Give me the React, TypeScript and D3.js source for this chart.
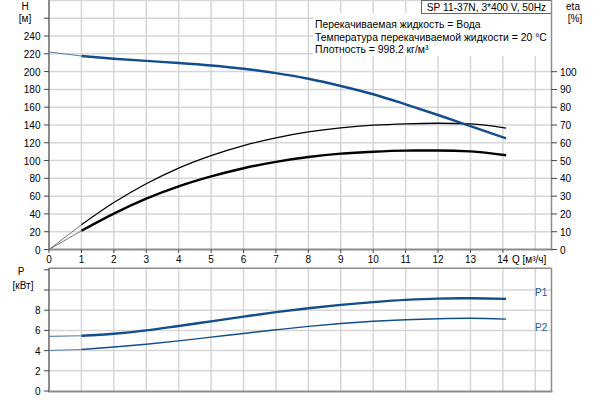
import React from "react";
import * as d3 from "d3";

const Q = [0, 1, 2, 3, 4, 5, 6, 7, 8, 9, 10, 11, 12, 13, 14.1];
const H = [222, 217.5, 214.5, 212, 209.7, 206.9, 203.2, 198.2, 191.9, 183.8, 174.5, 163.2, 151.2, 138.7, 125];
const ETA_P = [0, 13.9, 26.4, 37, 45.8, 52.8, 58.4, 62.8, 66.1, 68.4, 69.9, 70.7, 71, 70.6, 68.3];
const ETA_T = [0, 10.5, 20.2, 28.6, 35.5, 41.1, 45.7, 49.3, 52.0, 53.9, 55.0, 55.6, 55.7, 55.2, 53.0];
const P1 = [5.4, 5.47, 5.67, 6.0, 6.44, 6.9, 7.36, 7.81, 8.2, 8.53, 8.8, 9.02, 9.15, 9.18, 9.12];
const P2 = [4.01, 4.11, 4.35, 4.63, 4.96, 5.33, 5.7, 6.06, 6.4, 6.68, 6.9, 7.06, 7.16, 7.2, 7.12];
const X_TICKS = [0, 1, 2, 3, 4, 5, 6, 7, 8, 9, 10, 11, 12, 13, 14];
const H_TICKS = [0, 20, 40, 60, 80, 100, 120, 140, 160, 180, 200, 220, 240];
const ETA_TICKS = [0, 10, 20, 30, 40, 50, 60, 70, 80, 90, 100];
const P_TICKS = [0, 2, 4, 6, 8];
const INFO = [
  "Перекачиваемая жидкость = Вода",
  "Температура перекачиваемой жидкости = 20 °C",
  "Плотность = 998.2 кг/м³",
];
const TITLE = "SP 11-37N, 3*400 V, 50Hz";

const FONT = "'Liberation Sans', Arial, sans-serif";
const BLUE = "#124d8c";
const GRID = "#d6d6d6";
const AXIS = "#8c8c8c";

export default function App() {
  const x = d3.scaleLinear().domain([0, 15.5]).range([49, 551.5]);
  const yH = d3.scaleLinear().domain([0, 240]).range([249.5, 36]);
  const yE = d3.scaleLinear().domain([0, 100]).range([249.5, 71.7]);
  const yP = d3.scaleLinear().domain([0, 12.15]).range([391, 268.3]);

  const mk = (ys: number[], sc: d3.ScaleLinear<number, number>) => {
    const pts = Q.map((q, i) => [q, ys[i]] as [number, number]);
    const line = d3
      .line<[number, number]>()
      .x((d) => x(d[0]))
      .y((d) => sc(d[1]))
      .curve(d3.curveMonotoneX);
    return { lo: line(pts.slice(0, 2)) || "", hi: line(pts.slice(1)) || "" };
  };
  const hP = mk(H, yH);
  const e1 = mk(ETA_P, yE);
  const e2 = mk(ETA_T, yE);
  const p1 = mk(P1, yP);
  const p2 = mk(P2, yP);

  const vgrid = d3.range(1, 16);
  const hgridTop = d3.range(20, 281, 20);
  const hgridBot = [2, 4, 6, 8, 10];

  return (
    <svg
      width={600}
      height={400}
      style={{ position: "fixed", left: 0, top: 0, background: "#fff" }}
      fontFamily={FONT}
      fontSize={10}
    >
      <rect width={600} height={400} fill="#fff" />
      {/* top grid */}
      {vgrid.map((v) => (
        <line key={"tv" + v} x1={x(v)} x2={x(v)} y1={0} y2={249.5} stroke={GRID} strokeWidth={1.5} />
      ))}
      {hgridTop.map((v) => (
        <line key={"th" + v} x1={49} x2={551.5} y1={yH(v)} y2={yH(v)} stroke={GRID} strokeWidth={1.5} />
      ))}
      {/* info box */}
      <rect x={313} y={13} width={238} height={43} fill="#fff" />
      {INFO.map((t, i) => (
        <text key={t} x={315} y={28 + i * 12.6} fill="#000" fontSize={10.4}>
          {t}
        </text>
      ))}
      <rect x={421.5} y={0.5} width={130} height={13} fill="#fff" stroke="#666" strokeWidth={1} />
      <text x={486.5} y={11} textAnchor="middle" fill="#000" fontSize={10.2}>
        {TITLE}
      </text>

      {/* top axes */}
      <line x1={49} x2={49} y1={0} y2={250} stroke={AXIS} strokeWidth={2} />
      <line x1={48} x2={552.5} y1={249.5} y2={249.5} stroke={AXIS} strokeWidth={2} />
      <line x1={551.5} x2={551.5} y1={0} y2={250} stroke={AXIS} strokeWidth={1.5} />
      {[...H_TICKS, 260].map((v) => (
        <line key={"ht" + v} x1={44} x2={49} y1={yH(v)} y2={yH(v)} stroke="#444" />
      ))}
      {H_TICKS.map((v) => (
        <text key={"hl" + v} x={40.5} y={yH(v) + 4} textAnchor="end" fill="#000">
          {v}
        </text>
      ))}
      {ETA_TICKS.map((v) => (
        <g key={"et" + v}>
          <line x1={551.5} x2={557} y1={yE(v)} y2={yE(v)} stroke="#444" />
          <text x={560} y={yE(v) + 4} fill="#000">
            {v}
          </text>
        </g>
      ))}
      <text x={25} y={10} textAnchor="middle" fill="#000">H</text>
      <text x={25} y={22} textAnchor="middle" fill="#000">[м]</text>
      <text x={573} y={10} textAnchor="middle" fill="#000">eta</text>
      <text x={575} y={22} textAnchor="middle" fill="#000">[%]</text>

      {/* x tick labels */}
      {X_TICKS.map((v) => (
        <g key={"xt" + v}>
          <line x1={x(v)} x2={x(v)} y1={249.5} y2={253} stroke="#444" />
          <text x={x(v)} y={263} textAnchor="middle" fill="#000">
            {v}
          </text>
        </g>
      ))}
      <text x={512} y={263} fill="#000">Q [м³/ч]</text>

      {/* top curves */}
      <path d={e1.lo} fill="none" stroke="#777" strokeWidth={1} />
      <path d={e2.lo} fill="none" stroke="#777" strokeWidth={1} />
      <path d={hP.lo} fill="none" stroke="#5b82b0" strokeWidth={1.2} />
      <path d={e1.hi} fill="none" stroke="#000" strokeWidth={1.3} />
      <path d={e2.hi} fill="none" stroke="#000" strokeWidth={2.4} />
      <path d={hP.hi} fill="none" stroke={BLUE} strokeWidth={2.4} />

      {/* bottom chart */}
      {vgrid.map((v) => (
        <line key={"bv" + v} x1={x(v)} x2={x(v)} y1={268.3} y2={391} stroke={GRID} strokeWidth={1.5} />
      ))}
      {hgridBot.map((v) => (
        <line key={"bh" + v} x1={49} x2={551.5} y1={yP(v)} y2={yP(v)} stroke={GRID} strokeWidth={1.5} />
      ))}
      <line x1={49} x2={551.5} y1={268.3} y2={268.3} stroke={AXIS} strokeWidth={1.5} />
      <line x1={551.5} x2={551.5} y1={268.3} y2={391.5} stroke={AXIS} strokeWidth={1.5} />
      <line x1={49} x2={49} y1={268} y2={392} stroke={AXIS} strokeWidth={2} />
      <line x1={48} x2={552.5} y1={391.5} y2={391.5} stroke={AXIS} strokeWidth={2} />
      {[0, 2, 4, 6, 8, 10, 12].map((v) => (
        <line key={"pt" + v} x1={44} x2={49} y1={yP(v)} y2={yP(v)} stroke="#444" />
      ))}
      {P_TICKS.map((v) => (
        <text key={"pl" + v} x={40.5} y={yP(v) + 4} textAnchor="end" fill="#000">
          {v}
        </text>
      ))}
      <text x={21} y={275} textAnchor="middle" fill="#000">P</text>
      <text x={23} y={289} textAnchor="middle" fill="#000">[кВт]</text>

      <path d={p1.lo} fill="none" stroke="#5b82b0" strokeWidth={1.2} />
      <path d={p2.lo} fill="none" stroke="#5b82b0" strokeWidth={1} />
      <path d={p1.hi} fill="none" stroke={BLUE} strokeWidth={2.4} />
      <path d={p2.hi} fill="none" stroke={BLUE} strokeWidth={1.4} />
      <text x={535} y={296} fill="#1d5a99">P1</text>
      <text x={535} y={331} fill="#1d5a99">P2</text>
    </svg>
  );
}
